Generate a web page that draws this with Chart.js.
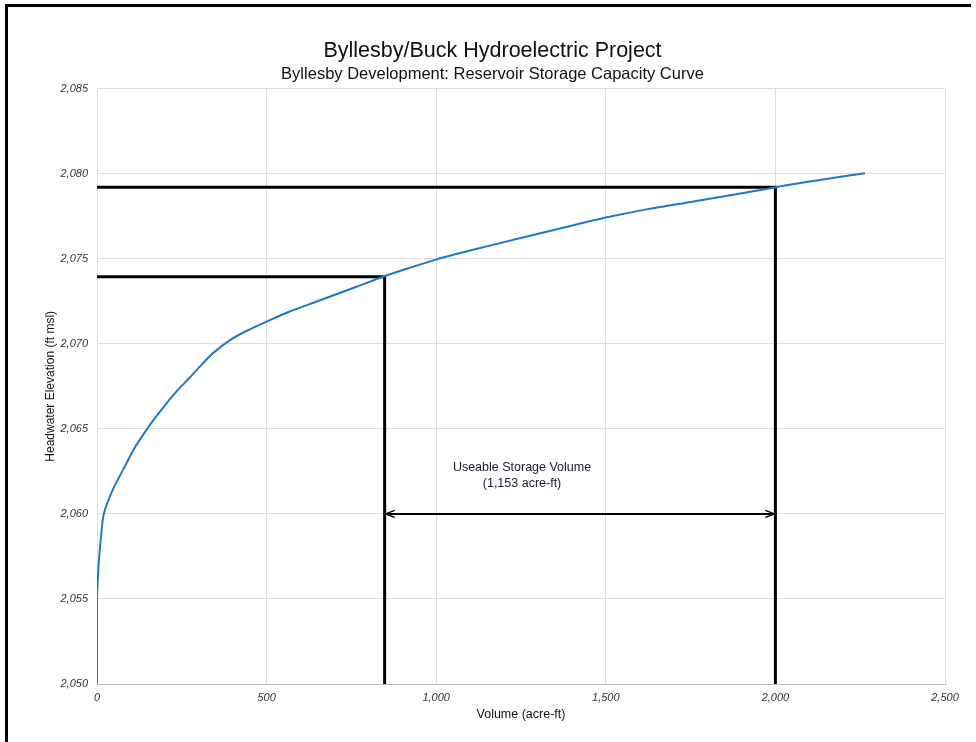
<!DOCTYPE html>
<html>
<head>
<meta charset="utf-8">
<script src="https://cdn.jsdelivr.net/npm/chart.js@4.4.1/dist/chart.umd.min.js"></script>
<style>
  html, body { margin: 0; padding: 0; background: #fff; }
  #wrap { width: 976px; height: 742px; position: relative; }
</style>
</head>
<body>
<div id="wrap"><canvas id="chart" width="976" height="742"></canvas></div>
<script>
// storage curve
const volume = [0, 0, 2, 5, 11, 20, 46, 77, 110, 155, 185, 230, 273, 310, 342, 391, 440, 500, 568, 650, 765, 843, 920, 1001, 1100, 1246, 1380, 1500, 1620, 1750, 1880, 1998, 2042, 2150, 2264];
const elevation = [2050, 2055, 2056, 2057.1, 2058.5, 2060.0, 2061.4, 2062.6, 2063.85, 2065.2, 2066.0, 2067.1, 2068.0, 2068.8, 2069.45, 2070.2, 2070.75, 2071.3, 2071.9, 2072.5, 2073.35, 2073.94, 2074.45, 2074.96, 2075.48, 2076.2, 2076.85, 2077.42, 2077.9, 2078.34, 2078.78, 2079.19, 2079.35, 2079.69, 2080.03];

// guide lines for the usable storage band
const upperGuideX = [0, 2000, 2000];
const upperGuideY = [2079.2, 2079.2, 2050];
const lowerGuideX = [0, 848, 848];
const lowerGuideY = [2073.94, 2073.94, 2050];
const arrowX = [848, 2000];
const arrowY = [2060, 2060];

const noteLines = ["Useable Storage Volume", "(1,153 acre-ft)"];
const noteX = 1253;
const noteY = [2062.7, 2061.8];

const xTicks = [0, 500, 1000, 1500, 2000, 2500];
const yTicks = [2050, 2055, 2060, 2065, 2070, 2075, 2080, 2085];

const FONT = "'Liberation Sans', Arial, sans-serif";

function pts(xs, ys) {
    return xs.map((x, i) => ({ x: x, y: ys[i] }));
}

const decorations = {
    id: "decorations",
    beforeDraw(chart) {
        const ctx = chart.ctx;
        ctx.save();
        ctx.fillStyle = "#fff";
        ctx.fillRect(0, 0, chart.width, chart.height);
        ctx.strokeStyle = "#000";
        ctx.lineWidth = 3;
        ctx.beginPath();
        ctx.moveTo(6.5, 742);
        ctx.lineTo(6.5, 5.5);
        ctx.lineTo(971, 5.5);
        ctx.stroke();
        ctx.restore();
    },
    afterDatasetsDraw(chart) {
        const ctx = chart.ctx;
        const xs = chart.scales.x, ys = chart.scales.y;
        ctx.save();
        // arrow heads
        const ay = ys.getPixelForValue(arrowY[0]);
        const ax0 = xs.getPixelForValue(arrowX[0]);
        const ax1 = xs.getPixelForValue(arrowX[1]);
        ctx.strokeStyle = "#000";
        ctx.lineWidth = 1.5;
        ctx.beginPath();
        ctx.moveTo(ax0 + 10, ay - 3.5);
        ctx.lineTo(ax0 + 1, ay);
        ctx.lineTo(ax0 + 10, ay + 3.5);
        ctx.moveTo(ax1 - 10, ay - 3.5);
        ctx.lineTo(ax1 - 1, ay);
        ctx.lineTo(ax1 - 10, ay + 3.5);
        ctx.stroke();
        // note text
        ctx.fillStyle = "#1a1a2e";
        ctx.font = "12.5px " + FONT;
        ctx.textAlign = "center";
        ctx.textBaseline = "middle";
        noteLines.forEach((t, i) => {
            ctx.fillText(t, xs.getPixelForValue(noteX), ys.getPixelForValue(noteY[i]));
        });
        ctx.restore();
    }
};

new Chart(document.getElementById("chart"), {
    type: "scatter",
    data: {
        datasets: [
            {
                data: pts(volume, elevation),
                showLine: true,
                borderColor: "#1f78c8",
                borderWidth: 2,
                pointRadius: 0,
                tension: 0.25
            },
            {
                data: pts(upperGuideX, upperGuideY),
                showLine: true,
                borderColor: "#000",
                borderWidth: 3,
                pointRadius: 0
            },
            {
                data: pts(lowerGuideX, lowerGuideY),
                showLine: true,
                borderColor: "#000",
                borderWidth: 3,
                pointRadius: 0
            },
            {
                data: pts(arrowX, arrowY),
                showLine: true,
                borderColor: "#000",
                borderWidth: 2,
                pointRadius: 0
            }
        ]
    },
    options: {
        responsive: false,
        animation: false,
        layout: { padding: { left: 40, right: 31, top: 31, bottom: 0 } },
        plugins: {
            legend: { display: false },
            tooltip: { enabled: false },
            title: {
                display: true,
                text: "Byllesby/Buck Hydroelectric Project",
                color: "#111",
                font: { family: FONT, size: 21.5, weight: "normal" },
                padding: { top: 7, bottom: 1 }
            },
            subtitle: {
                display: true,
                text: "Byllesby Development: Reservoir Storage Capacity Curve",
                color: "#111",
                font: { family: FONT, size: 16.5, weight: "normal" },
                padding: { top: 0, bottom: 4 }
            }
        },
        scales: {
            x: {
                type: "linear",
                min: 0,
                max: 2500,
                afterBuildTicks(scale) { scale.ticks = xTicks.map(v => ({ value: v })); },
                afterFit(scale) { scale.height = 58; },
                grid: { color: "#dedede", drawTicks: false },
                border: { color: "#bdbdbd", width: 1 },
                ticks: {
                    padding: 7,
                    color: "#333",
                    font: { family: FONT, size: 11, style: "italic" },
                    callback: v => v.toLocaleString("en-US")
                },
                title: {
                    display: true,
                    text: "Volume (acre-ft)",
                    color: "#111",
                    font: { family: FONT, size: 12.5 },
                    padding: { top: 2, bottom: 20 }
                }
            },
            y: {
                type: "linear",
                min: 2050,
                max: 2085,
                afterBuildTicks(scale) { scale.ticks = yTicks.map(v => ({ value: v })); },
                afterFit(scale) { scale.width = 57; },
                grid: { color: "#dedede", drawTicks: false },
                border: { color: "#dedede", width: 1 },
                ticks: {
                    padding: 9,
                    color: "#333",
                    font: { family: FONT, size: 11, style: "italic" },
                    callback: v => v.toLocaleString("en-US")
                },
                title: {
                    display: true,
                    text: "Headwater Elevation (ft msl)",
                    color: "#111",
                    font: { family: FONT, size: 12 },
                    padding: { top: 3, bottom: 2 }
                }
            }
        }
    },
    plugins: [decorations]
});
</script>
</body>
</html>
